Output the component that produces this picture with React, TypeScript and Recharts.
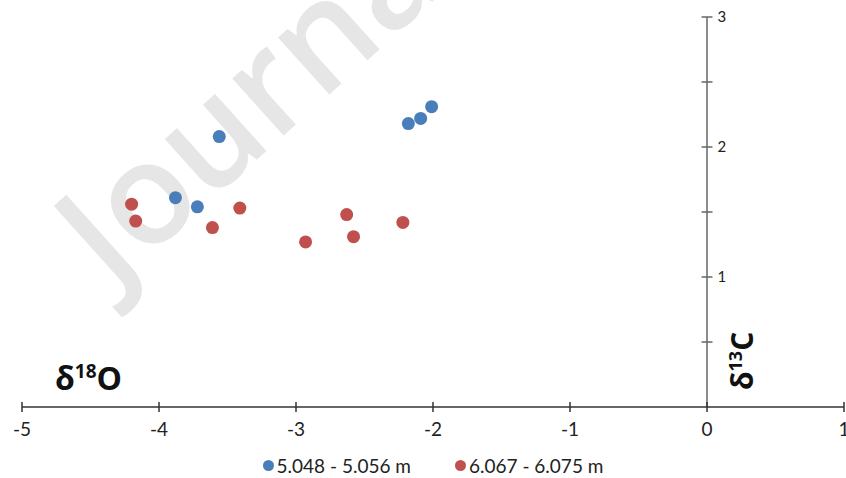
import { ScatterChart, Scatter, XAxis, YAxis, ReferenceLine, Legend } from 'recharts';

const xTicks = [-5, -4, -3, -2, -1, 0, 1];
const yTicks = [0.5, 1, 1.5, 2, 2.5, 3];
const yTickLabels = [1, 2, 3];

const upperName = '5.048 - 5.056 m';
const upperX = [-3.56, -3.88, -3.72, -2.18, -2.09, -2.01];
const upperY = [2.08, 1.61, 1.54, 2.18, 2.22, 2.31];

const lowerName = '6.067 - 6.075 m';
const lowerX = [-4.2, -4.17, -3.61, -3.41, -2.93, -2.63, -2.58, -2.22];
const lowerY = [1.56, 1.43, 1.38, 1.53, 1.27, 1.48, 1.31, 1.42];

const BLUE = '#4a7ebb';
const RED = '#c0504d';
const FONT = "Lato, 'Open Sans', sans-serif";

const upper = upperX.map((x, i) => ({ x, y: upperY[i] }));
const lower = lowerX.map((x, i) => ({ x, y: lowerY[i] }));

const Dot = (color: string) => (p: any) => <circle cx={p.cx} cy={p.cy} r={6.5} fill={color} />;

const XTick = (p: any) => (
  <g>
    <line x1={p.x} x2={p.x} y1={p.y - 5} y2={p.y + 5} stroke="#333" strokeWidth={1.5} />
    <text x={p.x} y={p.y + 29} textAnchor="middle" fontSize={19} fill="#222" fontFamily={FONT}>
      {p.payload.value}
    </text>
  </g>
);

const LegendBox = () => (
  <div style={{ height: 31, display: 'flex', justifyContent: 'center', alignItems: 'center', gap: 44, paddingTop: 6, boxSizing: 'border-box', fontFamily: FONT, fontSize: 19, color: '#222' }}>
    {[
      { name: upperName, color: BLUE },
      { name: lowerName, color: RED },
    ].map((it) => (
      <span key={it.name} style={{ display: 'flex', alignItems: 'center' }}>
        <span style={{ width: 11, height: 11, borderRadius: '50%', background: it.color, marginRight: 3 }} />
        {it.name}
      </span>
    ))}
  </div>
);

export default function App() {
  return (
    <div style={{ position: 'absolute', left: 0, top: 0, width: 846, height: 478, background: '#fff' }}>
      <svg width={846} height={478} style={{ position: 'absolute', left: 0, top: 0 }}>
        <text x={112} y={290} transform="rotate(-42 112 290)" fontSize={142} fontWeight={600} fill="#e6e6e6" fontFamily="'Open Sans', sans-serif">
          Journal
        </text>
      </svg>
      <div style={{ position: 'absolute', left: 0, top: 0 }}>
        <ScatterChart width={846} height={478} margin={{ top: 17, right: 2, left: 22, bottom: 0 }}>
          <XAxis
            type="number"
            dataKey="x"
            domain={[-5, 1]}
            ticks={xTicks}
            interval={0}
            height={40}
            tickSize={0}
            tickMargin={0}
            tickLine={false}
            axisLine={{ stroke: '#333', strokeWidth: 1.5 }}
            tick={XTick}
          />
          <YAxis type="number" dataKey="y" domain={[0, 3]} hide />
          <ReferenceLine x={0} stroke="#666" strokeWidth={1.5} />
          {yTicks.map((t) => (
            <ReferenceLine
              key={t}
              segment={[{ x: -0.04, y: t }, { x: 0.04, y: t }]}
              stroke="#666"
              strokeWidth={1.5}
              label={yTickLabels.includes(t) ? { value: String(t), position: 'right', fill: '#222', fontSize: 15, fontFamily: FONT } : undefined}
            />
          ))}
          <Scatter name={upperName} data={upper} fill={BLUE} shape={Dot(BLUE)} isAnimationActive={false} />
          <Scatter name={lowerName} data={lower} fill={RED} shape={Dot(RED)} isAnimationActive={false} />
          <Legend verticalAlign="bottom" content={LegendBox} />
        </ScatterChart>
      </div>
      <svg width={846} height={478} style={{ position: 'absolute', left: 0, top: 0, pointerEvents: 'none' }}>
        <text x={55} y={390} fontSize={32} fontWeight={700} fill="#111" fontFamily="'Open Sans', sans-serif">
          δ<tspan fontSize={19} dy={-12}>18</tspan><tspan dy={12}>O</tspan>
        </text>
        <text x={753} y={390} transform="rotate(-90 753 390)" fontSize={30} fontWeight={700} fill="#111" fontFamily="'Open Sans', sans-serif">
          δ<tspan fontSize={18} dy={-11}>13</tspan><tspan dy={11}>C</tspan>
        </text>
      </svg>
    </div>
  );
}
